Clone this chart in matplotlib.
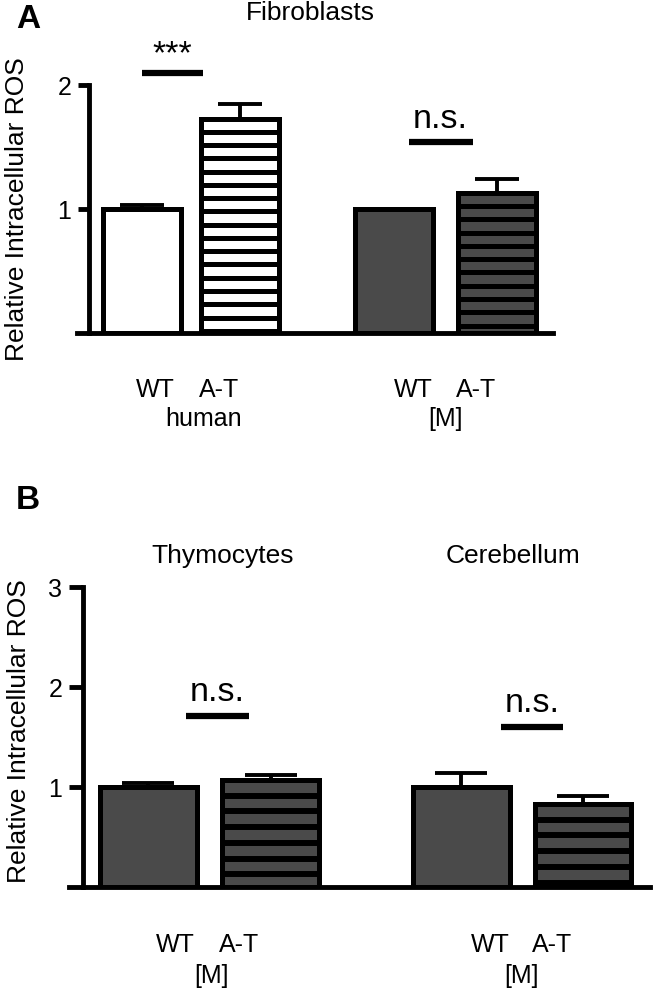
import numpy as np
import matplotlib
matplotlib.use("Agg")
import matplotlib.pyplot as plt

plt.rcParams['font.family'] = ['Liberation Sans', 'DejaVu Sans']

# panel A: fibroblasts (human WT, human A-T, mouse WT, mouse A-T)
fib_means = [1.0, 1.73, 1.0, 1.13]
fib_err = [0.03, 0.12, 0.0, 0.11]
fib_fill = ['white', 'white', '#4a4a4a', '#4a4a4a']
fib_striped = [False, True, False, True]

# panel B: thymocytes and cerebellum (mouse WT, mouse A-T)
thy_means = [1.0, 1.07]
thy_err = [0.04, 0.05]
cer_means = [1.0, 0.83]
cer_err = [0.14, 0.08]

group_labels = ['WT', 'A-T']
grey = '#4a4a4a'

fig = plt.figure(figsize=(6.53, 9.97), dpi=100)
axA = fig.add_axes([0.1179, 0.666, 0.729, 0.2487])
axB = fig.add_axes([0.1057, 0.1103, 0.8897, 0.3009])


def style_axis(ax, ymax, spine_x, xlim, ticklen, label_x, label_y):
    ax.set_xlim(*xlim)
    ax.set_ylim(0, ymax)
    for s in ['top', 'right']:
        ax.spines[s].set_visible(False)
    ax.spines['left'].set_position(('data', spine_x))
    ax.spines['left'].set_bounds(0, ymax)
    ax.spines['left'].set_linewidth(3.5)
    ax.spines['bottom'].set_linewidth(3.5)
    ax.set_xticks([])
    ax.set_yticks(np.arange(1, ymax + 1))
    ax.tick_params(axis='y', length=ticklen, width=3.5, labelsize=18, pad=5)
    ax.set_ylabel('Relative Intracellular ROS', fontsize=19)
    ax.yaxis.set_label_coords(label_x, label_y)


def draw_bars(ax, pos, means, err, fills, striped, capsize, step, stripe_lw):
    w = 0.94
    for x, m, f, st in zip(pos, means, fills, striped):
        ax.bar(x, m, width=w, color=f, edgecolor='black', linewidth=3.6, zorder=2)
        if st:
            ys = np.arange(m - step, 0, -step)
            ax.hlines(ys, x - w / 2, x + w / 2, color='black', lw=stripe_lw, zorder=2.1)
    ax.errorbar(pos, means, yerr=[np.zeros(len(means)), err], fmt='none',
                ecolor='black', elinewidth=2.8, capsize=capsize, capthick=2.8,
                zorder=1)


def sig(ax, x0, x1, y, text, dy):
    ax.plot([x0, x1], [y, y], color='black', lw=4.5, clip_on=False,
            solid_capstyle='butt')
    ax.text((x0 + x1) / 2, y + dy, text, ha='center', va='bottom',
            fontsize=24.5, clip_on=False)


def xlabels(ax, xs, labels, offset, size=18):
    for x, lab in zip(xs, labels):
        ax.annotate(lab, xy=(x, 0), xycoords=('data', 'axes fraction'),
                    xytext=(0, -offset), textcoords='offset points',
                    ha='center', va='center', fontsize=size)


# ---- panel A
posA = [1, 2.19, 4.04, 5.29]
style_axis(axA, 2, 0.37, (0.22, 5.96), 8, -0.100, 0.5)
draw_bars(axA, posA, fib_means, fib_err, fib_fill, fib_striped, 16, 0.107, 3.6)
sig(axA, 1.0, 1.74, 2.10, '***', 0.02)
sig(axA, 4.22, 4.99, 1.54, 'n.s.', 0.06)
xlabels(axA, [1.16, 1.93, 4.27, 5.03], group_labels * 2, 41)
xlabels(axA, [1.75, 4.66], ['human', '[M]'], 62)

# ---- panel B
posB = [1, 2.19, 4.04, 5.22]
style_axis(axB, 3, 0.37, (0.233, 5.87), 10, -0.066, 0.52)
draw_bars(axB, posB, thy_means + cer_means, thy_err + cer_err,
          [grey] * 4, [False, True, False, True], 19, 0.157, 4.3)
sig(axB, 1.37, 1.98, 1.71, 'n.s.', 0.08)
sig(axB, 4.42, 5.03, 1.60, 'n.s.', 0.08)
xlabels(axB, [1.26, 1.88, 4.32, 4.92], group_labels * 2, 42)
xlabels(axB, [1.62, 4.62], ['[M]', '[M]'], 64)

# titles and panel letters
fig.text(310 / 653, 1 - 13 / 997, 'Fibroblasts', ha='center', va='center', fontsize=19)
fig.text(223 / 653, 1 - 556 / 997, 'Thymocytes', ha='center', va='center', fontsize=19)
fig.text(513 / 653, 1 - 556 / 997, 'Cerebellum', ha='center', va='center', fontsize=19)
fig.text(28 / 653, 1 - 20 / 997, 'A', ha='center', va='center', fontsize=24, fontweight='bold')
fig.text(28 / 653, 1 - 500 / 997, 'B', ha='center', va='center', fontsize=24, fontweight='bold')

fig.savefig('out.png', dpi=100)
